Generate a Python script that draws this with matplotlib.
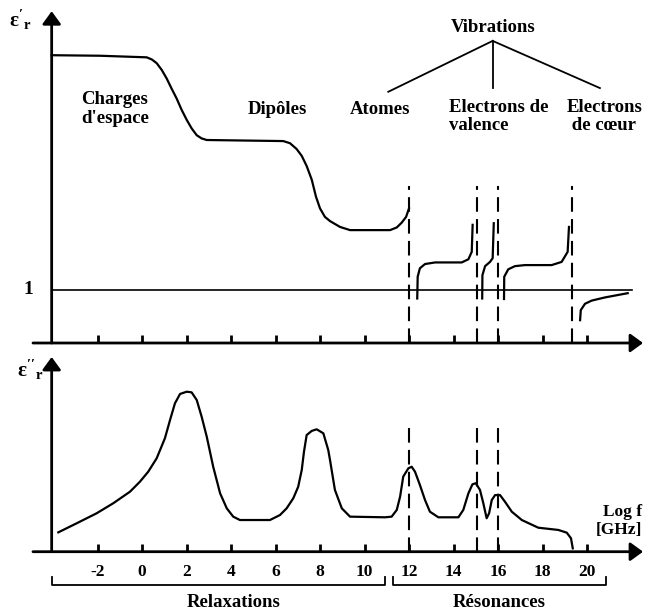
import matplotlib
matplotlib.use("Agg")
import matplotlib.pyplot as plt

# -----------------------------
# Data (x = log f)
# -----------------------------

# real part, relaxation region
relax_x = [-4.06, -1.89, 0.21, 0.44, 0.66, 0.89, 1.11, 1.33, 1.56, 1.78, 2.01,
           2.23, 2.46, 2.68, 2.91, 6.35, 6.65, 6.95, 7.18, 7.40, 7.63, 7.82,
           8.00, 8.22, 8.45, 8.90, 9.35, 11.15, 11.45, 11.67, 11.87, 12.0]
relax_y = [5.43, 5.42, 5.39, 5.35, 5.28, 5.15, 4.99, 4.80, 4.61, 4.40, 4.21,
           4.05, 3.92, 3.86, 3.83, 3.81, 3.77, 3.66, 3.53, 3.34, 3.08, 2.76,
           2.54, 2.38, 2.30, 2.19, 2.13, 2.13, 2.18, 2.27, 2.38, 2.54]

# real part, resonance branches
res_segments = [
    ([12.37, 12.39, 12.49, 12.72, 13.17, 14.37, 14.67, 14.82, 14.86],
     [0.84, 1.25, 1.41, 1.49, 1.52, 1.52, 1.58, 1.72, 2.23]),
    ([15.29, 15.30, 15.42, 15.64, 15.76, 15.81],
     [0.84, 1.28, 1.45, 1.53, 1.60, 2.26]),
    ([16.27, 16.28, 16.46, 16.76, 17.21, 18.41, 18.86, 19.13, 19.19],
     [0.83, 1.25, 1.39, 1.45, 1.47, 1.47, 1.53, 1.72, 2.19]),
    ([19.69, 19.72, 19.91, 20.21, 20.81, 21.83],
     [0.43, 0.62, 0.74, 0.80, 0.86, 0.94]),
]

# imaginary part
loss_x = [-3.76, -2.93, -2.04, -1.29, -0.54, -0.09, 0.28, 0.66, 1.03, 1.26,
          1.48, 1.71, 2.01, 2.23, 2.46, 2.68, 2.91, 3.20, 3.51, 3.81, 4.10,
          4.40, 5.75, 6.20, 6.50, 6.80, 7.02, 7.18, 7.28, 7.40, 7.63, 7.85,
          8.15, 8.37, 8.45, 8.67, 8.98, 9.35, 10.92, 11.22, 11.45, 11.60,
          11.74, 11.97, 12.12, 12.27, 12.49, 12.72, 12.94, 13.32, 14.22, 14.44,
          14.67, 14.85, 15.00, 15.19, 15.34, 15.49, 15.60, 15.72, 15.87, 16.09,
          16.31, 16.62, 17.07, 17.81, 18.71, 19.09, 19.28, 19.36]
loss_y = [0.121, 0.178, 0.240, 0.303, 0.375, 0.438, 0.500, 0.584, 0.709, 0.823,
          0.927, 0.986, 1.0, 0.996, 0.948, 0.844, 0.719, 0.531, 0.365, 0.271,
          0.219, 0.198, 0.198, 0.229, 0.271, 0.334, 0.406, 0.511, 0.625, 0.729,
          0.755, 0.765, 0.74, 0.636, 0.573, 0.386, 0.271, 0.219, 0.215,
          0.219, 0.261, 0.344, 0.469, 0.521, 0.531, 0.5, 0.417, 0.323, 0.25,
          0.215, 0.215, 0.261, 0.365, 0.421, 0.428, 0.386, 0.303, 0.209, 0.24,
          0.323, 0.354, 0.354, 0.313, 0.25, 0.198, 0.15, 0.136, 0.119, 0.084,
          0.021]

upper_dash_x = [12.0, 15.07, 15.99, 19.34]
lower_dash_x = [12.0, 15.07, 15.99]
tick_x = [-2, 0, 2, 4, 6, 8, 10, 12, 14, 16, 18, 20]
tick_labels = ["-2", "0", "2", "4", "6", "8", "10", "12", "14", "16", "18", "20"]

# -----------------------------
# Style
# -----------------------------
plt.rcParams["font.family"] = ["Liberation Serif", "DejaVu Serif"]
plt.rcParams["font.weight"] = "bold"
plt.rcParams["mathtext.fontset"] = "custom"
plt.rcParams["mathtext.rm"] = "Liberation Serif:bold"
plt.rcParams["mathtext.it"] = "Liberation Serif:bold"
plt.rcParams["mathtext.bf"] = "Liberation Serif:bold"

W, H = 653, 613
fig = plt.figure(figsize=(W / 100, H / 100), dpi=100)
XLIM = (-142 / 22.25, (W - 142) / 22.25)
Y0 = -4.06  # position of the vertical axes

ax1 = fig.add_axes([0, 1 - 350 / H, 1, 350 / H])
ax1.set_xlim(*XLIM)
ax1.set_ylim(-7 / 53, 343 / 53)
ax2 = fig.add_axes([0, 0, 1, 263 / H])
ax2.set_xlim(*XLIM)
ax2.set_ylim(-61.3 / 160, 201.7 / 160)
for ax in (ax1, ax2):
    ax.axis("off")

arrow = dict(arrowstyle="-|>,head_length=0.55,head_width=0.4", lw=2,
             color="black", shrinkA=0, shrinkB=0, mutation_scale=14)
FS = 13.5


def draw_axes(ax, ytop, tick_len):
    ax.annotate("", xy=(22.52, 0), xytext=(-4.9, 0), arrowprops=arrow)
    ax.annotate("", xy=(Y0, ytop), xytext=(Y0, 0), arrowprops=arrow)
    for t in tick_x:
        ax.plot([t, t], [0, tick_len], color="black", lw=2, solid_capstyle="butt")


# -----------------------------
# Upper panel: eps'
# -----------------------------
draw_axes(ax1, 6.26, 0.15)
ax1.plot([Y0, 22.0], [1, 1], color="black", lw=1.2)
ax1.plot(relax_x, relax_y, color="black", lw=1.6)
for sx, sy in res_segments:
    ax1.plot(sx, sy, color="black", lw=1.6)
for d in upper_dash_x:
    ax1.plot([d, d], [0, 2.96], color="black", lw=1.5, dashes=(7, 3.5))

ax1.text(-5.48, 6.09, r"$ε'_r$", fontsize=15, ha="center", va="center")
ax1.text(-5.12, 1.0, "1", fontsize=14, ha="center", va="center")
ax1.text(-2.74, 4.415, "Charges\nd'espace", fontsize=FS, ha="left", va="center",
         linespacing=1.1)
ax1.text(6.07, 4.40, "Dipôles", fontsize=FS, ha="center", va="center")
ax1.text(10.70, 4.40, "Atomes", fontsize=FS, ha="center", va="center")
ax1.text(13.80, 4.28, "Electrons de\nvalence", fontsize=FS, ha="left",
         va="center", linespacing=1.1)
ax1.text(19.09, 4.28, "Electrons\n de cœur", fontsize=FS, ha="left",
         va="center", linespacing=1.1)
ax1.text(15.78, 5.96, "Vibrations", fontsize=FS, ha="center", va="center")
for bx, by in [(11.07, 4.74), (15.76, 4.81), (20.58, 4.81)]:
    ax1.plot([15.76, bx], [5.70, by], color="black", lw=1.3)

# -----------------------------
# Lower panel: eps''
# -----------------------------
draw_axes(ax2, 1.217, 0.05)
ax2.plot(loss_x, loss_y, color="black", lw=1.6)
for d in lower_dash_x:
    ax2.plot([d, d], [0, 0.80], color="black", lw=1.5, dashes=(7, 3.5))

ax2.text(-5.03, 1.136, r"$ε''_r$", fontsize=15, ha="center", va="center")
ax2.text(22.46, 0.19, "Log f\n[GHz]", fontsize=12.5, ha="right", va="center",
         linespacing=1.15)
for t, lab in zip(tick_x, tick_labels):
    ax2.text(t, -0.127, lab, fontsize=12.5, ha="center", va="center")

# brackets
for x0, x1, name in [(-4.04, 10.92, "Relaxations"), (11.28, 20.85, "Résonances")]:
    ax2.plot([x0, x0, x1, x1], [-0.158, -0.208, -0.208, -0.158], color="black", lw=1.3)
    ax2.text((x0 + x1) / 2 + (0.0 if name == "Résonances" else 0.7), -0.32, name,
             fontsize=FS, ha="center", va="center")

fig.savefig("out.png", dpi=100)
